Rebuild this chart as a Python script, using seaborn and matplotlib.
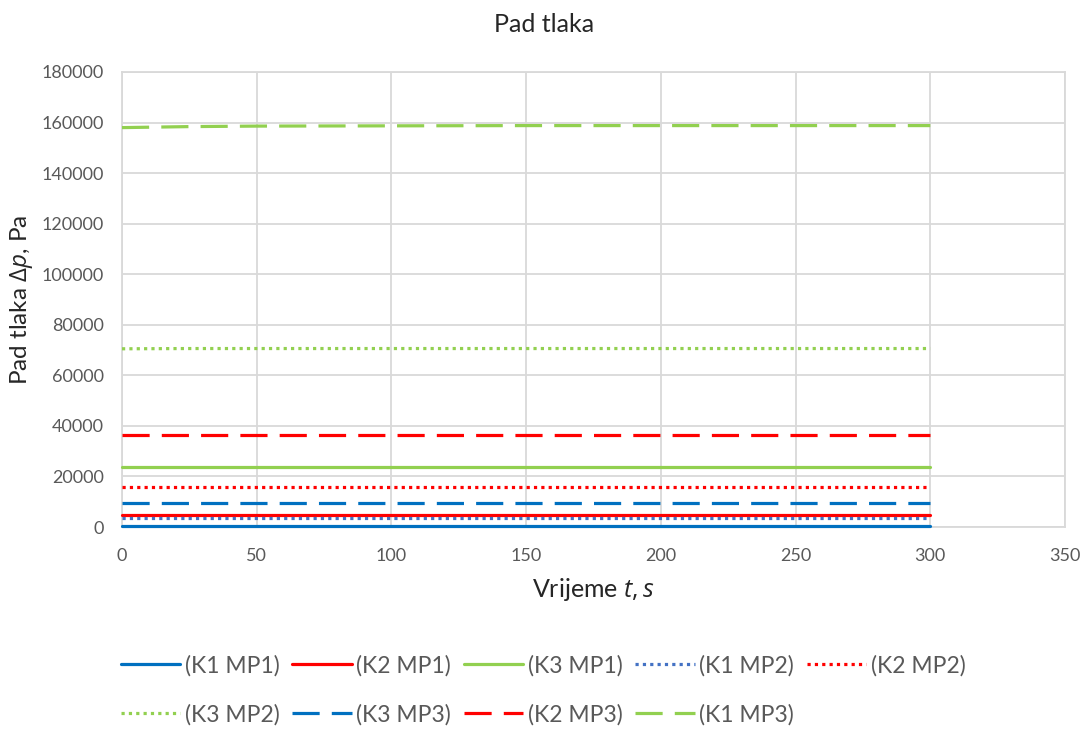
import pandas as pd
import seaborn as sns
import matplotlib.pyplot as plt

# vrijeme, s
t = [0, 25, 50, 100, 150, 200, 250, 300]

# pad tlaka po seriji, Pa (ocitano s grafa)
k1_mp1 = [500, 500, 500, 500, 500, 500, 500, 500]
k2_mp1 = [4700, 4700, 4700, 4700, 4700, 4700, 4700, 4700]
k3_mp1 = [23900, 23900, 23900, 23900, 23900, 23900, 23900, 23900]
k1_mp2 = [3500, 3500, 3500, 3500, 3500, 3500, 3500, 3500]
k2_mp2 = [15900, 15900, 15900, 15900, 15900, 15900, 15900, 15900]
k3_mp2 = [70500, 70600, 70600, 70600, 70600, 70600, 70600, 70600]
k3_mp3 = [9300, 9300, 9300, 9300, 9300, 9300, 9300, 9300]
k2_mp3 = [36300, 36300, 36300, 36300, 36300, 36300, 36300, 36300]
k1_mp3 = [158000, 158400, 158600, 158700, 158800, 158800, 158800, 158800]

labels = ['(K1 MP1)', '(K2 MP1)', '(K3 MP1)', '(K1 MP2)', '(K2 MP2)',
          '(K3 MP2)', '(K3 MP3)', '(K2 MP3)', '(K1 MP3)']
series = [k1_mp1, k2_mp1, k3_mp1, k1_mp2, k2_mp2, k3_mp2, k3_mp3, k2_mp3, k1_mp3]

blue = '#0070C0'
red = '#FF0000'
green = '#92D050'
blue_dot = '#4472C4'
colors = [blue, red, green, blue_dot, red, green, blue, red, green]

solid = '-'
dot = (0, (1, 1.3))
dash = (0, (8.5, 3.8))
styles = [solid, solid, solid, dot, dot, dot, dash, dash, dash]

sns.set_style('white')
plt.rcParams['font.family'] = ['Lato', 'DejaVu Sans']
plt.rcParams['mathtext.fontset'] = 'custom'
plt.rcParams['mathtext.it'] = 'Open Sans:italic'
plt.rcParams['mathtext.rm'] = 'Open Sans'

fig = plt.figure(figsize=(10.88, 7.31), dpi=100)
ax = fig.add_axes([122 / 1088, 1 - 527 / 731, (1065 - 122) / 1088, (527 - 72) / 731])

for lab, vals, c, ls in zip(labels, series, colors, styles):
    df = pd.DataFrame({'t': t, 'dp': vals})
    sns.lineplot(data=df, x='t', y='dp', ax=ax, color=c, linestyle=ls,
                 linewidth=2.3, label=lab, legend=False, clip_on=False, zorder=3)

ax.set_xlim(0, 350)
ax.set_ylim(0, 180000)
ax.set_xticks(range(0, 351, 50))
ax.set_yticks(range(0, 180001, 20000))
ax.grid(True, color='#D9D9D9', linewidth=1.3)
ax.set_axisbelow(True)
for s in ax.spines.values():
    s.set_color('#D9D9D9')
    s.set_linewidth(1.3)
    s.set_zorder(1)
ax.tick_params(length=0, labelsize=13, colors='#595959', pad=13)
ax.tick_params(axis='x', pad=15)

ax.set_xlabel(r'Vrijeme $\mathit{t, s}$', fontsize=18, labelpad=9)
ax.set_ylabel(r'Pad tlaka $\mathit{\Delta p}$, Pa', fontsize=17.5, labelpad=5)
fig.suptitle('Pad tlaka', x=0.5, y=1 - 25 / 731, va='center', fontsize=18)

# legenda redom po recima (matplotlib puni po stupcima)
h, l = ax.get_legend_handles_labels()
order = [0, 5, 1, 6, 2, 7, 3, 8, 4]
leg = fig.legend([h[i] for i in order], [l[i] for i in order], ncol=5,
                 loc='center', bbox_to_anchor=(543 / 1088, 1 - 690 / 731),
                 frameon=False, fontsize=16.5, handlelength=2.6, handletextpad=0.2,
                 columnspacing=0.55, labelspacing=1.2)
for txt in leg.get_texts():
    txt.set_color('#595959')

fig.savefig('out.png', dpi=100)
